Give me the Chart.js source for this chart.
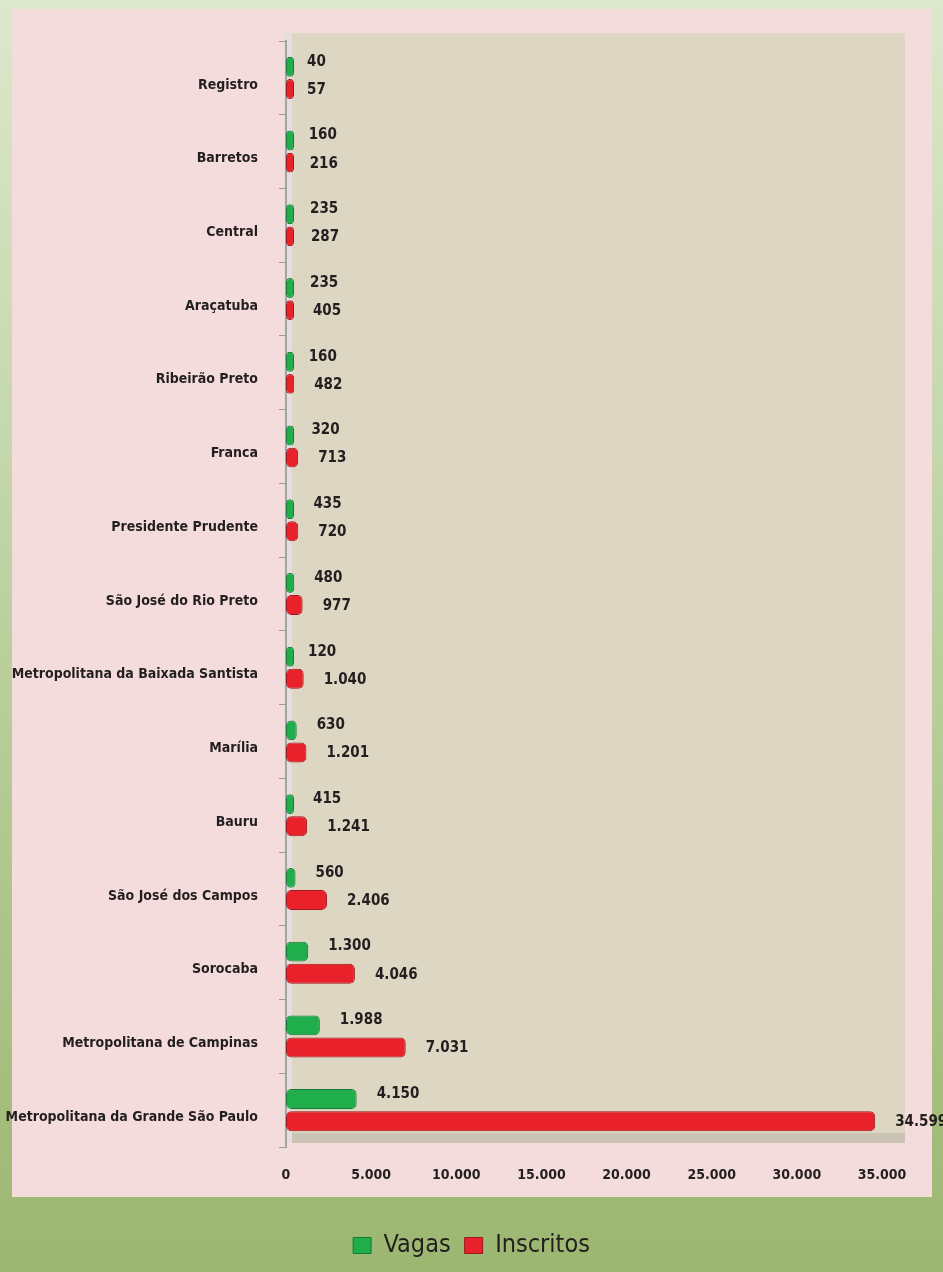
<!DOCTYPE html>
<html>
<head>
<meta charset="utf-8">
<script src="https://cdn.jsdelivr.net/npm/chart.js@4"></script>
<style>
  html, body { margin: 0; padding: 0; }
  #wrap { width: 943px; height: 1272px; position: relative; }
</style>
</head>
<body>
<div id="wrap"><canvas id="vagasChart" width="943" height="1272"></canvas></div>
<script>
// Data
const regioes = ['Registro', 'Barretos', 'Central', 'Araçatuba', 'Ribeirão Preto', 'Franca',
  'Presidente Prudente', 'São José do Rio Preto', 'Metropolitana da Baixada Santista', 'Marília',
  'Bauru', 'São José dos Campos', 'Sorocaba', 'Metropolitana de Campinas',
  'Metropolitana da Grande São Paulo'];
const vagas = [40, 160, 235, 235, 160, 320, 435, 480, 120, 630, 415, 560, 1300, 1988, 4150];
const inscritos = [57, 216, 287, 405, 482, 713, 720, 977, 1040, 1201, 1241, 2406, 4046, 7031, 34599];
const xTicks = [0, 5000, 10000, 15000, 20000, 25000, 30000, 35000];

const FONT = '"DejaVu Sans Condensed", "Liberation Sans Narrow", sans-serif';
const fmt = v => v.toLocaleString('pt-BR');

// background, panel and plot "walls"
const backdrop = {
    id: 'backdrop',
    beforeDraw(chart) {
        const { ctx, chartArea: a, width, height } = chart;
        ctx.save();
        const g = ctx.createLinearGradient(0, 0, 0, height);
        g.addColorStop(0, '#dbe8cb');
        g.addColorStop(1, '#9cb771');
        ctx.fillStyle = g;
        ctx.fillRect(0, 0, width, height);
        ctx.fillStyle = '#f5dcdc';
        ctx.fillRect(12, 9, 920, 1188);
        // back wall
        ctx.fillStyle = '#ddd6c2';
        ctx.fillRect(a.left + 6, a.top - 8, a.right - a.left + 17, a.bottom - a.top);
        // left wall
        ctx.fillStyle = '#e6dede';
        ctx.fillRect(a.left - 2, a.top - 10, 8, a.bottom - a.top + 6);
        // floor
        ctx.fillStyle = '#c9c4b4';
        ctx.fillRect(a.left + 6, a.bottom - 14, a.right - a.left + 17, 10);
        ctx.restore();
    }
};

// value labels next to the bars
const valueLabels = {
    id: 'valueLabels',
    afterDatasetsDraw(chart) {
        const { ctx } = chart;
        const xs = chart.scales.x;
        const x0 = xs.getPixelForValue(0);
        ctx.save();
        ctx.font = 'bold 15px ' + FONT;
        ctx.fillStyle = '#231f20';
        ctx.textBaseline = 'middle';
        chart.data.datasets.forEach((ds, di) => {
            chart.getDatasetMeta(di).data.forEach((bar, i) => {
                const x = Math.max(xs.getPixelForValue(ds.data[i]) + 20, x0 + 21);
                const y = bar.y + (di === 0 ? -5 : 1);
                ctx.fillText(fmt(ds.data[i]), x, y);
            });
        });
        ctx.restore();
    }
};

const ctx = document.getElementById('vagasChart').getContext('2d');
const chart = new Chart(ctx, {
    type: 'bar',
    data: {
        labels: regioes,
        datasets: [{
            label: 'Vagas',
            data: vagas,
            backgroundColor: '#1fae4b',
            borderColor: '#177a35',
            borderWidth: 1,
            borderRadius: 5,
            borderSkipped: false,
            minBarLength: 8
        }, {
            label: 'Inscritos',
            data: inscritos,
            backgroundColor: '#e8212a',
            borderColor: '#9a1a1e',
            borderWidth: 1,
            borderRadius: 5,
            borderSkipped: false,
            minBarLength: 8
        }]
    },
    options: {
        indexAxis: 'y',
        responsive: false,
        animation: false,
        layout: { padding: { left: 0, right: 0, top: 41, bottom: 4 } },
        categoryPercentage: 0.6,
        barPercentage: 0.9,
        scales: {
            x: {
                min: 0, max: 35000,
                afterBuildTicks: s => { s.ticks = xTicks.map(v => ({ value: v })); },
                afterFit: s => { s.height = 72; s.paddingRight = 61; },
                grid: { display: false, drawTicks: true, tickLength: 6, color: '#9a9a9a' },
                border: { display: false },
                ticks: { color: '#231f20', font: { family: FONT, size: 14, weight: 'bold' }, padding: 14, callback: v => fmt(v) }
            },
            y: {
                afterFit: s => { s.width = 286; },
                grid: { display: true, drawOnChartArea: false, tickLength: 7, color: '#9a9a9a', offset: true },
                border: { display: true, color: '#a8a3a3', width: 2 },
                ticks: { color: '#231f20', font: { family: FONT, size: 14, weight: 'bold' }, padding: 21, labelOffset: 7 }
            }
        },
        plugins: {
            legend: {
                position: 'bottom',
                labels: {
                    boxWidth: 18, boxHeight: 16, padding: 14,
                    color: '#231f20',
                    font: { family: FONT, size: 25 }
                }
            },
            tooltip: { enabled: false }
        }
    },
    plugins: [backdrop, valueLabels]
});
</script>
</body>
</html>
